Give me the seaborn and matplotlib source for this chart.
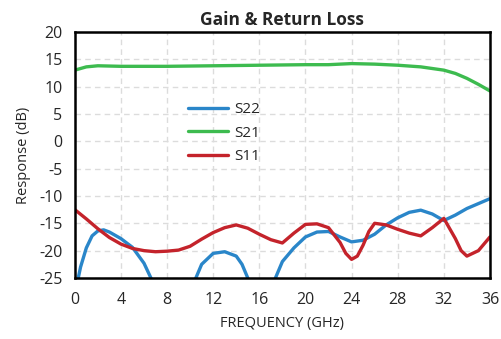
import matplotlib.pyplot as plt
import matplotlib.ticker as mticker
import pandas as pd
import seaborn as sns

# S21 (gain)
freq_s21 = [0, 1, 2, 4, 8, 12, 16, 20, 22, 24, 26, 28, 30, 32, 33, 34, 35, 36]
s21 = [13.0, 13.6, 13.8, 13.7, 13.7, 13.8, 13.9, 14.0, 14.0, 14.2, 14.1, 13.9,
       13.6, 13.0, 12.4, 11.5, 10.4, 9.2]

# S22 (output return loss)
freq_s22 = [0, 0.5, 1, 1.5, 2, 2.5, 3, 4, 5, 6, 6.6, 7, 8, 9, 10, 10.5, 11, 12,
            13, 14, 14.5, 15, 15.5, 16, 17, 17.5, 18, 19, 20, 21, 22, 23, 24,
            25, 26, 27, 28, 29, 30, 31, 32, 33, 34, 35, 36]
s22 = [-28, -23, -19.5, -17.3, -16.4, -16.2, -16.6, -17.8, -19.4, -22.3, -25,
       -27, -31, -31, -27.5, -25, -22.5, -20.5, -20.2, -21, -22.5, -25, -28,
       -30, -27, -24.5, -22, -19.5, -17.5, -16.6, -16.5, -17.5, -18.4, -18.1,
       -17.0, -15.3, -14.0, -13.0, -12.6, -13.3, -14.5, -13.5, -12.3, -11.4,
       -10.5]

# S11 (input return loss)
freq_s11 = [0, 1, 2, 3, 4, 5, 6, 7, 8, 9, 10, 11, 12, 13, 14, 15, 16, 17, 18,
            19, 20, 21, 22, 23, 23.5, 24, 24.5, 25, 25.5, 26, 27, 28, 29, 30,
            31, 32, 33, 33.5, 34, 35, 36]
s11 = [-12.5, -14.2, -16.0, -17.6, -18.8, -19.6, -20.0, -20.2, -20.1, -19.9,
       -19.2, -17.9, -16.7, -15.8, -15.3, -15.9, -17.0, -18.0, -18.6, -16.8,
       -15.2, -15.1, -15.8, -18.5, -20.5, -21.6, -21.0, -19.0, -16.5, -15.0,
       -15.3, -16.1, -16.8, -17.3, -15.8, -14.1, -17.8, -20.0, -21.0, -20.0,
       -17.5]

df = pd.concat([
    pd.DataFrame({"Frequency": freq_s22, "Response": s22, "Trace": "S22"}),
    pd.DataFrame({"Frequency": freq_s21, "Response": s21, "Trace": "S21"}),
    pd.DataFrame({"Frequency": freq_s11, "Response": s11, "Trace": "S11"}),
])

sns.set_style("white")
plt.rcParams["font.family"] = ["Open Sans", "DejaVu Sans"]
plt.rcParams["axes.unicode_minus"] = False

fig = plt.figure(figsize=(5.02, 3.39), dpi=100)
ax = fig.add_axes([0.149, 0.180, 0.827, 0.726])

sns.lineplot(
    data=df, x="Frequency", y="Response", hue="Trace", sort=False,
    palette={"S22": "#2a86c9", "S21": "#3dbb4f", "S11": "#c4232b"},
    linewidth=2.4, ax=ax, estimator=None,
)

ax.set_xlim(0, 36)
ax.set_ylim(-25, 20)
ax.xaxis.set_major_locator(mticker.MultipleLocator(4))
ax.xaxis.set_minor_locator(mticker.MultipleLocator(1))
ax.yaxis.set_major_locator(mticker.MultipleLocator(5))
ax.yaxis.set_minor_locator(mticker.MultipleLocator(1))
ax.tick_params(axis="both", which="both", direction="in", top=False, right=False,
               labelsize=11.5, color="black", width=1.5)
ax.tick_params(which="major", length=5)
ax.tick_params(which="minor", length=3)
ax.tick_params(axis="x", which="major", pad=10)
ax.tick_params(axis="y", which="major", pad=9)
ax.grid(True, which="major", color="#dcdcdc", linestyle=(0, (4, 3)), linewidth=1)
for s in ax.spines.values():
    s.set_color("black")
    s.set_linewidth(1.8)

ax.set_title("Gain & Return Loss", fontsize=12.5, fontweight="bold", pad=5)
ax.set_xlabel("FREQUENCY (GHz)", fontsize=10.5, labelpad=6)
ax.set_ylabel("Response (dB)", fontsize=10.5, labelpad=6)

ax.legend(loc="upper left", bbox_to_anchor=(0.24, 0.77), frameon=False,
          fontsize=11, handlelength=2.6, labelspacing=0.55, handletextpad=0.4,
          title=None)

fig.savefig("out.png", dpi=100)
